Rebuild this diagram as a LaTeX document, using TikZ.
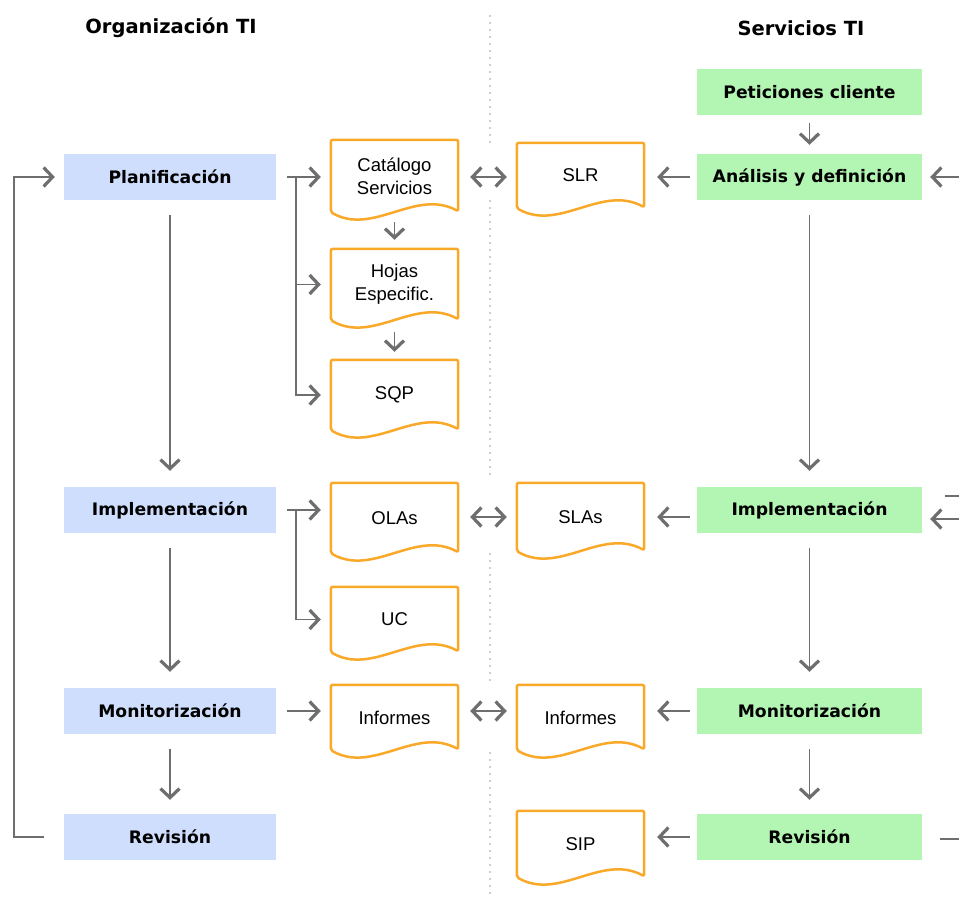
\documentclass[tikz,border=0pt]{standalone}
\usepackage{fontspec}
\setmainfont{Liberation Sans}
\newfontfamily\dvs{DejaVu Sans}
\usetikzlibrary{arrows.meta,calc}
\definecolor{boxblue}{RGB}{207,222,252}
\definecolor{boxgreen}{RGB}{179,245,179}
\definecolor{docor}{RGB}{250,168,40}
\definecolor{arrgray}{RGB}{110,110,110}
\definecolor{dotgray}{RGB}{205,205,205}
\begin{document}
\begin{tikzpicture}[x=1pt,y=-1pt,
  >={Straight Barb[length=9pt,width=19pt,line width=3.2pt]},
  orgbox/.style={fill=boxblue, minimum width=212pt, minimum height=46pt, inner sep=0pt,
    font=\dvs\bfseries\fontsize{17.2}{20}\selectfont},
  svcbox/.style={orgbox, fill=boxgreen, minimum width=225pt},
  docnode/.style={minimum width=127pt, inner sep=0pt, align=center,
    font=\fontsize{18.5}{23}\selectfont},
  ldoc/.style={docnode, minimum height=68pt},
  rdoc/.style={docnode, minimum height=66pt},
  docline/.style={draw=docor, line width=2.5pt, line join=round, rounded corners=2pt},
  ln/.style={draw=arrgray, line width=1.6pt},
  arr/.style={ln, ->},
  darr/.style={ln, <->},
  head/.style={font=\dvs\bfseries\fontsize{19.5}{22}\selectfont},
  dotln/.style={draw=dotgray, line width=2pt, dash pattern=on 2pt off 5pt}
]
\useasboundingbox (0,0) rectangle (959,901);

% dotted separator
\coordinate (s1) at (490,15);  \coordinate (s2) at (490,147);
\coordinate (s3) at (490,200); \coordinate (s4) at (490,480);
\coordinate (s5) at (490,553); \coordinate (s6) at (490,683);
\coordinate (s7) at (490,752); \coordinate (s8) at (490,895);
\draw[dotln] (s1) -- (s2);
\draw[dotln] (s3) -- (s4);
\draw[dotln] (s5) -- (s6);
\draw[dotln] (s7) -- (s8);

% headers
\node[head] (h1) at (171,28) {Organización TI};
\node[head] (h2) at (801,28) {Servicios TI};

% left column boxes
\node[orgbox] (plan) at (170,177) {Planificación};
\node[orgbox] (implb) at (170,510) {Implementación};
\node[orgbox] (monb) at (170,711) {Monitorización};
\node[orgbox] (revb) at (170,837) {Revisión};

% right column boxes
\node[svcbox] (pet) at (809.5,92) {Peticiones cliente};
\node[svcbox] (ana) at (809.5,177) {Análisis y definición};
\node[svcbox] (implg) at (809.5,510) {Implementación};
\node[svcbox] (mong) at (809.5,711) {Monitorización};
\node[svcbox] (revg) at (809.5,837) {Revisión};

% documents
\node[ldoc, minimum height=72pt] (cat) at (394.5,176) {Catálogo\\Servicios};
\node[ldoc, minimum height=71pt] (hoj) at (394.5,284.5) {Hojas\\Especific.};
\node[ldoc, minimum height=70pt] (sqp) at (394.5,395) {SQP};
\node[ldoc, minimum height=70pt] (ola) at (394.5,518) {OLAs};
\node[ldoc, minimum height=65pt] (uc) at (394.5,619.5) {UC};
\node[ldoc, minimum height=65pt] (infl) at (394.5,717.5) {Informes};
\node[rdoc, minimum height=65pt] (slr) at (580.5,175.5) {SLR};
\node[rdoc, minimum height=68pt] (sla) at (580.5,517) {SLAs};
\node[rdoc, minimum height=65pt] (infr) at (580.5,717.5) {Informes};
\node[rdoc, minimum height=66pt] (sip) at (580.5,844) {SIP};

\foreach \d in {cat,hoj,sqp,ola,uc,infl,slr,sla,infr,sip}{
  \draw[docline] (\d.south west) -- (\d.north west) -- (\d.north east)
    -- ($(\d.south east)+(0,-1)$)
    .. controls ($(\d.south west)+(84.7,-24)$) and ($(\d.south west)+(42.3,24)$) .. (\d.south west)
    -- cycle;
}

% Planificacion to documents
\coordinate (b1) at ($(plan.east)+(20,0)$);
\draw[arr, shorten <=11pt, shorten >=10pt] (plan.east) -- (plan.east -| cat.west);
\draw[arr, shorten >=10pt] (b1) |- (sqp.west);
\draw[arr, shorten >=10pt] (b1 |- hoj.west) -- (hoj.west);
\draw[arr, shorten <=10pt, shorten >=9pt] (cat.south) -- (hoj.north);
\draw[arr, shorten <=12pt, shorten >=8pt] (hoj.south) -- (sqp.north);

% Implementacion to documents
\coordinate (b2) at ($(implb.east)+(20,0)$);
\draw[arr, shorten <=11pt, shorten >=10pt] (implb.east) -- (implb.east -| ola.west);
\draw[arr, shorten >=10pt] (b2) |- (uc.west);

% Monitorizacion to documents
\draw[arr, shorten <=11pt, shorten >=10pt] (monb.east) -- (monb.east -| infl.west);

% double arrows
\draw[darr, shorten <=12pt, shorten >=10pt] (cat.east |- plan.east) -- (slr.west |- plan.east);
\draw[darr, shorten <=12pt, shorten >=10pt] (ola.east |- sla.west) -- (sla.west);
\draw[darr, shorten <=12pt, shorten >=10pt] (infl.east |- monb.east) -- (infr.west |- monb.east);

% service boxes to documents
\draw[arr, shorten <=7pt, shorten >=13pt] (ana.west) -- (ana.west -| slr.east);
\draw[arr, shorten <=7pt, shorten >=13pt] (implg.west |- sla.east) -- (sla.east);
\draw[arr, shorten <=7pt, shorten >=13pt] (mong.west) -- (mong.west -| infr.east);
\draw[arr, shorten <=7pt, shorten >=13pt] (revg.west) -- (revg.west -| sip.east);

% vertical flow left
\draw[arr, shorten <=15pt, shorten >=16pt] (plan.south) -- (implb.north);
\draw[arr, shorten <=15pt, shorten >=16pt] (implb.south) -- (monb.north);
\draw[arr, shorten <=15pt, shorten >=14pt] (monb.south) -- (revb.north);

% vertical flow right
\draw[arr, shorten <=8pt, shorten >=9pt] (pet.south) -- (ana.north);
\draw[arr, shorten <=15pt, shorten >=16pt] (ana.south) -- (implg.north);
\draw[arr, shorten <=15pt, shorten >=16pt] (implg.south) -- (mong.north);
\draw[arr, shorten <=15pt, shorten >=14pt] (mong.south) -- (revg.north);

% left feedback loop
\draw[arr, shorten <=20pt, shorten >=9pt] (revb.west) -- ++(-50,0) |- (plan.west);

% right loop stubs
\coordinate (ra) at (962,177);
\draw[arr, shorten >=8pt] (ra) -- (ana.east);
\coordinate (ri1) at (962,519);
\draw[arr, shorten >=8pt] (ri1) -- (ri1 -| implg.east);
\coordinate (ri3) at (945,496); \coordinate (ri4) at (962,496);
\draw[ln] (ri3) -- (ri4);
\coordinate (rr1) at (940,839); \coordinate (rr2) at (962,839);
\draw[ln] (rr1) -- (rr2);
\end{tikzpicture}
\end{document}
